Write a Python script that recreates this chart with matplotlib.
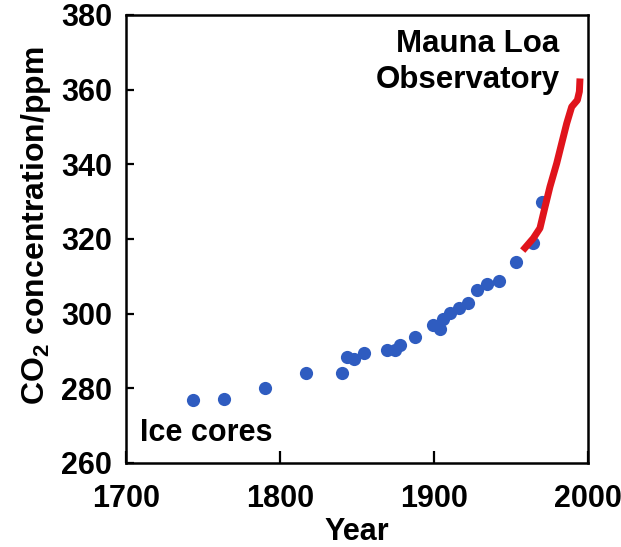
import matplotlib
matplotlib.use('Agg')
import matplotlib.pyplot as plt

plt.rcParams['font.family'] = ['Liberation Sans', 'DejaVu Sans']
plt.rcParams['font.weight'] = 'bold'
plt.rcParams['mathtext.fontset'] = 'custom'
plt.rcParams['mathtext.bf'] = 'Liberation Sans:bold'
plt.rcParams['mathtext.rm'] = 'Liberation Sans:bold'

# ice core samples
ice_years = [1743.7, 1763.6, 1790.3, 1816.9, 1840.5, 1843.3, 1848.3, 1854.5,
             1869.7, 1874.7, 1878.0, 1887.7, 1899.5, 1903.9, 1906.0, 1910.4,
             1916.2, 1921.9, 1927.7, 1934.6, 1942.4, 1953.2, 1964.5, 1969.9]
ice_ppm = [277.0, 277.1, 280.2, 284.2, 284.0, 288.3, 287.8, 289.4,
           290.3, 290.3, 291.6, 293.7, 297.0, 295.8, 298.7, 300.3,
           301.6, 302.9, 306.3, 307.9, 308.8, 313.8, 319.0, 330.0]

# Mauna Loa record
ml_years = [1957.6, 1964.5, 1968.8, 1972.1, 1975.3, 1979.7, 1982.9, 1986.2,
            1989.4, 1993.1, 1994.4, 1994.8]
ml_ppm = [316.9, 320.2, 322.9, 328.6, 334.0, 340.3, 345.6, 351.0,
          355.4, 357.2, 359.5, 363.0]

xticks = [1700, 1800, 1900, 2000]
yticks = [260, 280, 300, 320, 340, 360, 380]

fig = plt.figure(figsize=(6.21, 5.47), dpi=100)
ax = fig.add_axes([126/621, 1 - 463/547, (588 - 126)/621, (463 - 15)/547])

ax.plot(ice_years, ice_ppm, 'o', color='#2f5cc0', markersize=9.5, markeredgewidth=0)
ax.plot(ml_years, ml_ppm, '-', color='#e0141c', linewidth=5, solid_capstyle='butt')

ax.set_xlim(1700, 2000)
ax.set_ylim(260, 380)
ax.set_xticks(xticks)
ax.set_yticks(yticks)
ax.tick_params(axis='both', direction='in', labelsize=22, width=1.6)
ax.tick_params(axis='x', length=9, pad=15)
ax.tick_params(axis='y', length=6, pad=10)
for s in ax.spines.values():
    s.set_linewidth(1.8)

ax.set_xlabel('Year', fontsize=22, fontweight='bold', labelpad=2)
ax.set_ylabel(r'CO$_\mathbf{2}$ concentration/ppm', fontsize=23, fontweight='bold', labelpad=6)
ax.yaxis.label.set_y(0.53)

ax.text(1709, 266.0, 'Ice cores', fontsize=22, fontweight='bold', ha='left', va='baseline')
ax.text(1981.5, 367.5, 'Mauna Loa\nObservatory', fontsize=22.5, fontweight='bold',
        ha='right', va='center', multialignment='right', linespacing=1.25)

fig.savefig('out.png', dpi=100)
